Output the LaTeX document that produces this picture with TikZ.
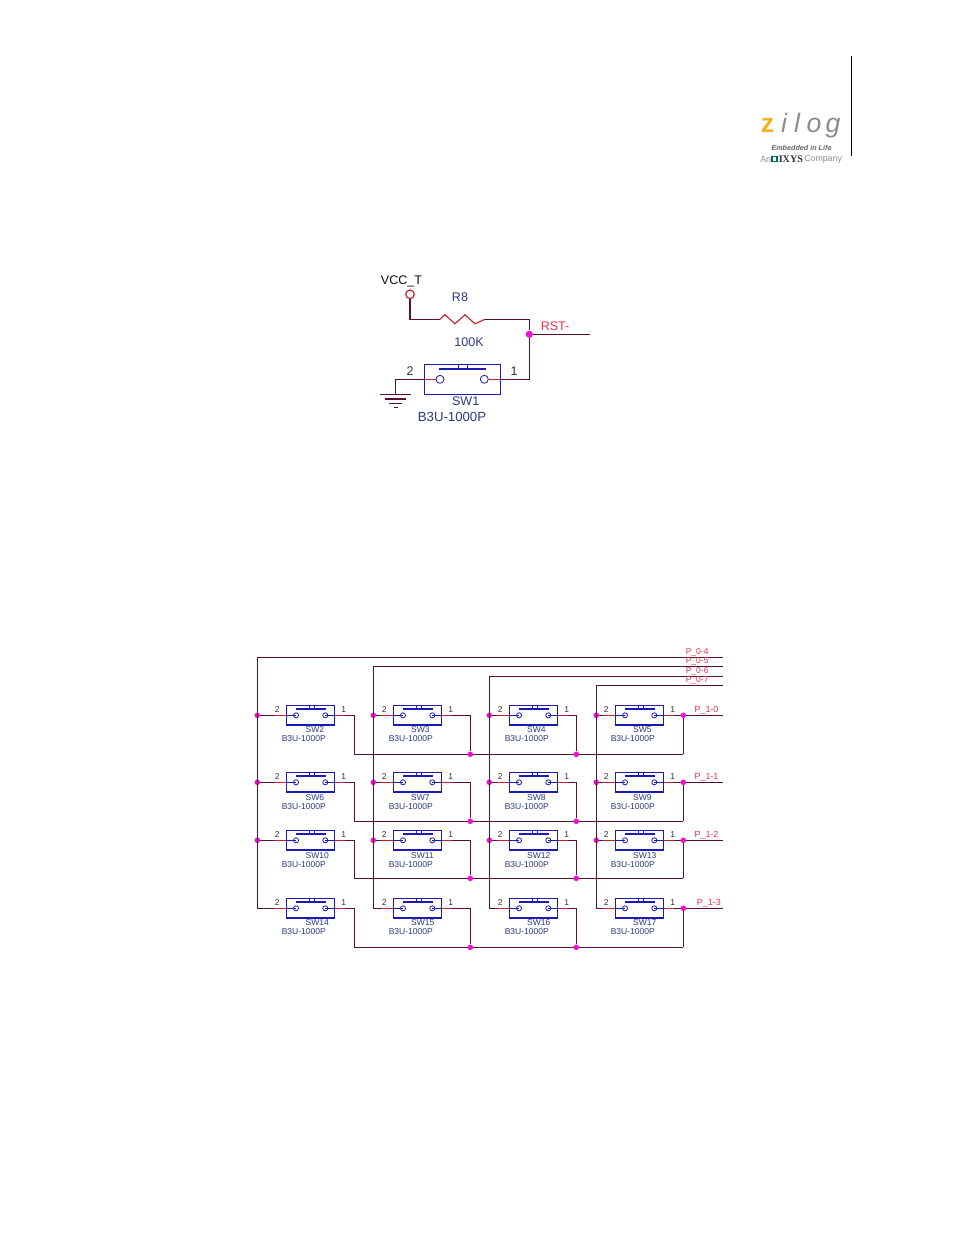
\documentclass[tikz,border=0pt]{standalone}
\usepackage{fontspec}
\setmainfont{Liberation Sans}
\newfontfamily\logoserif{Liberation Serif}
\usetikzlibrary{shapes,backgrounds}
\definecolor{wirecol}{HTML}{5A0F2E}
\definecolor{pincol}{HTML}{C4202F}
\definecolor{swblue}{HTML}{1A1AB4}
\definecolor{dotcol}{HTML}{F010D8}
\definecolor{namecol}{HTML}{2B3A80}
\definecolor{netcol}{HTML}{E8304A}
\definecolor{numcol}{HTML}{333333}
\definecolor{logogrey}{HTML}{8C8C8C}
\definecolor{logoyellow}{HTML}{EFB21E}
\tikzset{
  n/.style={inner sep=0, minimum size=4.2pt, fill=dotcol, circle},
  corner/.style={coordinate},
  wire/.style={draw=wirecol, line width=0.85pt},
  pin/.style={draw=pincol, line width=0.85pt},
  swbox/.style={draw=swblue, line width=0.85pt, inner sep=0, minimum width=36.4pt, minimum height=14.6pt},
  contact/.style={draw=swblue, line width=0.6pt, inner sep=0, minimum size=3.8pt, circle},
  swbar/.style={fill=swblue, inner sep=0, minimum width=22pt, minimum height=1.3pt},
  swcap/.style={draw=swblue, line width=0.5pt, inner sep=0, minimum width=3.8pt, minimum height=2.6pt},
  small/.style={inner sep=0, font=\fontsize{6.4}{7}\selectfont},
  big/.style={inner sep=0, font=\fontsize{9.4}{11}\selectfont},
  logoletter/.style={inner sep=0, anchor=base, text=logogrey, font=\fontsize{20}{20}\selectfont\itshape}
}
\begin{document}
\begin{tikzpicture}[x=0.75pt,y=-0.75pt]
  \useasboundingbox (0,0) rectangle (954,1235);

  % page rule and logo
  \coordinate (ruleA) at (851.5,56);
  \coordinate (ruleB) at (851.5,156);
  \draw[black, line width=0.8pt] (ruleA) -- (ruleB);
  \node[logoletter, text=logoyellow, font=\fontsize{20}{20}\selectfont\bfseries] (logoz) at (767.5,132) {z};
  \node[logoletter] (logoi) at (784,132) {i};
  \node[logoletter] (logol) at (797,132) {l};
  \node[logoletter] (logoo) at (814,132) {o};
  \node[logoletter] (logog) at (833,132) {g};
  \node[inner sep=0, text=black!60, font=\fontsize{5.4}{6}\selectfont\bfseries\itshape] (logotag) at (801.5,148) {Embedded in Life};
  \node[inner sep=0, anchor=west, text=logogrey, font=\fontsize{6.6}{7}\selectfont] (logoan) at (760,159.3) {An};
  \node[fill=teal!80!black, inner sep=0, minimum size=5.2pt] (logosq) at (774.7,159) {};
  \node[fill=white, inner sep=0, minimum size=2.4pt] (logosqin) at (774.7,159) {};
  \node[inner sep=0, anchor=west, text=black!80, font=\fontsize{7.6}{8}\selectfont\logoserif\bfseries] (logoixys) at (778.5,159) {IXYS};
  \node[inner sep=0, anchor=west, text=logogrey, font=\fontsize{6.6}{7}\selectfont] (logoco) at (804,159.3) {Company};

  % reset switch
  \node[draw=pincol, line width=0.9pt, circle, inner sep=0, minimum size=6.4pt] (vcc) at (410,294.3) {};
  \node[big, text=black!75!namecol] (vcclbl) at (401.5,281.5) {VCC\_T};
  \node[big, text=namecol] (r8lbl) at (460,297) {R8};
  \node[big, text=namecol] (r8val) at (469,342) {100K};
  \coordinate (r8a) at (440,319.3);
  \coordinate (r8b) at (485,319.3);
  \node[n, minimum size=5.4pt] (rstdot) at (529.3,334.3) {};
  \coordinate (rstend) at (590,334.3);
  \node[big, anchor=west, text=netcol] (rstlbl) at (540.5,326.5) {RST-};
  \node[swbox, minimum width=57pt, minimum height=22.5pt] (SW1) at (462.3,379.3) {};
  \node[contact, minimum size=6pt] (a1) at (440,379.3) {};
  \node[contact, minimum size=6pt] (b1) at (484.3,379.3) {};
  \node[swbar, minimum width=35pt, minimum height=1.6pt] (bar1) at (462.3,369.3) {};
  \node[swcap, minimum width=6.7pt, minimum height=3.6pt] (cap1) at (462.7,366.8) {};
  \node[big, text=numcol] (pa1) at (410,371) {2};
  \node[big, text=numcol] (pb1) at (514,371) {1};
  \node[big, text=namecol] (nm1) at (465.7,401.5) {SW1};
  \node[big, text=namecol, font=\fontsize{9.9}{11}\selectfont] (ty1) at (452,416.5) {B3U-1000P};
  \coordinate (gnd) at (395.7,394.3);
  \coordinate (gndpin) at (395.7,379.3);
  \begin{scope}[on background layer]
    \draw[wire] (vcc) |- (r8a);
    \draw[pin] (r8a) -- ++(5,-4.5) -- ++(10,9) -- ++(10,-9) -- ++(10,9) -- (r8b);
    \draw[wire] (r8b) -| (rstdot);
    \draw[wire] (rstdot) -- (rstend);
    \draw[wire] (rstdot) |- (SW1.east);
    \draw[pin] (SW1.east) -- (b1);
    \draw[wire] (gnd) -- (gndpin) -- (SW1.west);
    \draw[pin] (SW1.west) -- (a1);
    \foreach \h/\w in {0/15.5,4.7/10.5,9.3/6.5,13.3/2}
    {
      \draw[wire] (gnd) +(-\w,\h) -- +(\w,\h);
    }
  \end{scope}

  % key matrix
  \foreach \y/\by/\ty/\js [count=\rw from 0] in {715.3/754.3/729.7/n,782.3/821.3/797.4/n,840.3/878.3/855.7/n,908.3/947.3/922.4/corner}
  {
    \foreach \x/\bx/\ex/\tx/\ks [count=\cl from 0] in {286.3/257.3/354.3/19/corner,393.3/373.3/470.3/17.5/n,509.3/489.3/576.3/17.5/n,615.3/596.3/683.3/17.5/corner}
    {
      \pgfmathparse{int(2+\cl+4*\rw)}
      \edef\s{\pgfmathresult}
      \node[swbox] (SW\s) at ({\x+24.3},\y) {};
      \node[contact] (a\s) at ({\x+9.7},\y) {};
      \node[contact] (b\s) at ({\x+39},\y) {};
      \node[swbar] (bar\s) at ({\x+24.8},{\y-6.2}) {};
      \node[swcap] (cap\s) at ({\x+25.2},{\y-8}) {};
      \node[small, text=numcol] (pa\s) at ({\x-9},{\y-6}) {2};
      \node[small, text=numcol] (pb\s) at ({\x+57.5},{\y-6}) {1};
      \node[small, anchor=west, text=namecol] (nm\s) at ({\x+\tx},\ty) {SW\s};
      \node[small, anchor=west, text=namecol] (ty\s) at ({\x-4.8},{\ty+8.9}) {B3U-1000P};
      \node[\js] (J\rw\cl) at (\bx,\y) {};
      \node[\ks] (K\rw\cl) at (\ex,\by) {};
      \begin{scope}[on background layer]
        \draw[wire] (J\rw\cl) -- (SW\s.west);
        \draw[wire] (SW\s.east) -| (K\rw\cl);
        \draw[pin] (SW\s.west) -- ++(-12,0);
        \draw[pin] (SW\s.east) -- ++(10,0);
        \draw[swblue, line width=0.6pt] (SW\s.west) -- (a\s.center);
        \draw[swblue, line width=0.6pt] (SW\s.east) -- (b\s.center);
      \end{scope}
    }
    \begin{scope}[on background layer]
      \draw[wire] (K\rw0) -- (K\rw3);
    \end{scope}
  }

  % port 0 lines
  \foreach \c/\x/\y/\v in {0/257.3/657.3/4,1/373.3/666.3/5,2/489.3/676.3/6,3/596.3/685.3/7}
  {
    \coordinate (U\c) at (723,\y);
    \coordinate (V\c) at (\x,\y);
    \draw[wire] (U\c) -- (V\c) -- (J3\c);
    \node[small, anchor=west, text=netcol] (lblU\c) at (685.5,{\y-4.8}) {P\_0-\v};
  }

  % port 1 lines
  \foreach \c/\y/\lx in {0/715.3/694.3,1/782.3/694.3,2/840.3/694.3,3/908.3/696.7}
  {
    \node[n] (O\c) at (683.3,\y) {};
    \coordinate (F\c) at (723,\y);
    \begin{scope}[on background layer]
      \draw[wire] (O\c) -- (F\c);
    \end{scope}
    \node[small, anchor=west, text=netcol, font=\fontsize{6.7}{7}\selectfont] (lblF\c) at (\lx,{\y-4.8}) {P\_1-\c};
  }
\end{tikzpicture}
\end{document}
